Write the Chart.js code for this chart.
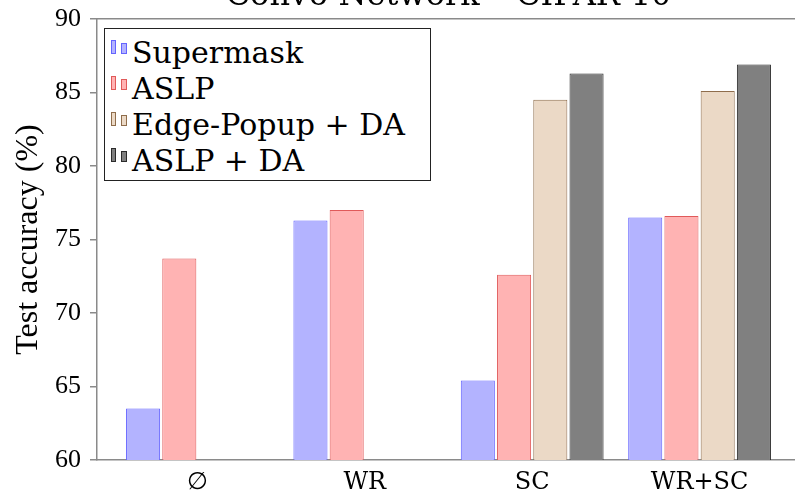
<!DOCTYPE html>
<html>
<head>
<meta charset="utf-8">
<script src="https://cdn.jsdelivr.net/npm/chart.js@4.4.1/dist/chart.umd.min.js"></script>
<style>
  html, body { margin: 0; padding: 0; background: #fff; }
  #wrap { position: relative; width: 795px; height: 496px; overflow: hidden; }
  #chart { position: absolute; left: 0; top: -23px; }
  #legend {
    position: absolute; left: 104px; top: 28px;
    width: 325px; height: 145px; padding-top: 6px;
    border: 1px solid #222; background: #fff;
    font-family: 'DejaVu Serif', serif; font-size: 30px; color: #000;
  }
  .row { position: relative; height: 36px; line-height: 36px; padding-left: 27px; white-space: nowrap; }
  .ic { position: absolute; box-sizing: border-box; border: 1px solid; }
</style>
</head>
<body>
<div id="wrap">
  <canvas id="chart" width="800" height="519" style="width:800px;height:519px"></canvas>
  <div id="legend"></div>
</div>
<script>
// data
const categories = ['∅', 'WR', 'SC', 'WR+SC'];
const seriesNames = ['Supermask', 'ASLP', 'Edge-Popup + DA', 'ASLP + DA'];
const supermask = [63.5, 76.3, 65.4, 76.5];
const aslp = [73.7, 77.0, 72.6, 76.6];
const edgePopupDA = [null, null, 84.5, 85.1];
const aslpDA = [null, null, 86.3, 86.9];
const yTicks = [60, 65, 70, 75, 80, 85, 90];

const fills = ['#b3b3ff', '#ffb3b3', '#ebd9c6', '#808080'];
const borders = ['#6464ff', '#e05a5a', '#8f6d4c', '#2b2b2b'];

const axisGray = '#8a8a8a';
const serif = "'Liberation Serif', serif";
const dvSerif = "'DejaVu Serif', serif";
const allSeries = [supermask, aslp, edgePopupDA, aslpDA];

const datasets = allSeries.map((vals, i) => ({
    label: seriesNames[i],
    data: vals.map((v, j) => ({ x: j, y: v })),
    backgroundColor: fills[i],
    borderColor: borders[i],
    borderWidth: 1,
    borderSkipped: false,
    categoryPercentage: 0.866,
    barPercentage: 0.94
}));

const chart = new Chart(document.getElementById('chart'), {
    type: 'bar',
    data: { datasets: datasets },
    options: {
        responsive: false,
        animation: false,
        devicePixelRatio: 1,
        layout: { padding: 0 },
        plugins: {
            legend: { display: false },
            tooltip: { enabled: false },
            title: {
                display: true,
                text: 'Conv6 Network – CIFAR-10',
                fullSize: false,
                color: '#000',
                font: { family: dvSerif, size: 32, weight: 'normal' },
                padding: { top: 0, bottom: 3.6 }
            }
        },
        scales: {
            x: {
                type: 'linear',
                offset: false,
                min: -0.6,
                max: 3.6,
                afterBuildTicks: s => { s.ticks = categories.map((c, i) => ({ value: i })); },
                ticks: {
                    callback: v => categories[v],
                    color: '#000',
                    font: { family: dvSerif, size: 24 },
                    padding: 8,
                    maxRotation: 0
                },
                grid: { display: false, drawTicks: false, offset: false },
                border: { color: axisGray, width: 1.5 },
                afterFit: s => { s.height = 36; }
            },
            top: {
                type: 'linear',
                position: 'top',
                ticks: { display: false },
                grid: { display: false, drawTicks: false },
                border: { color: axisGray, width: 1.5 },
                afterFit: s => { s.height = 0; }
            },
            y: {
                min: 60,
                max: 90,
                afterBuildTicks: s => { s.ticks = yTicks.map(v => ({ value: v })); },
                ticks: {
                    color: '#000',
                    font: { family: serif, size: 26 },
                    padding: 9
                },
                grid: { drawOnChartArea: false, tickLength: 7, color: axisGray, lineWidth: 1.5 },
                border: { color: axisGray, width: 1.5 },
                title: {
                    display: true,
                    text: 'Test accuracy (%)',
                    color: '#000',
                    font: { family: serif, size: 32 },
                    padding: { top: 9, bottom: 0 }
                },
                afterFit: s => { s.width = 97; }
            }
        }
    }
});

// legend box drawn as html over the plot, from the chart datasets
const legendEl = document.getElementById('legend');
chart.data.datasets.forEach(ds => {
    const row = document.createElement('div');
    row.className = 'row';
    [[6, 5, 5, 14], [16, 8, 6, 11]].forEach(([l, t, w, h]) => {
        const ic = document.createElement('span');
        ic.className = 'ic';
        ic.style.left = l + 'px';
        ic.style.top = t + 'px';
        ic.style.width = w + 'px';
        ic.style.height = h + 'px';
        ic.style.background = ds.backgroundColor;
        ic.style.borderColor = ds.borderColor;
        row.appendChild(ic);
    });
    row.appendChild(document.createTextNode(ds.label));
    legendEl.appendChild(row);
});
</script>
</body>
</html>
